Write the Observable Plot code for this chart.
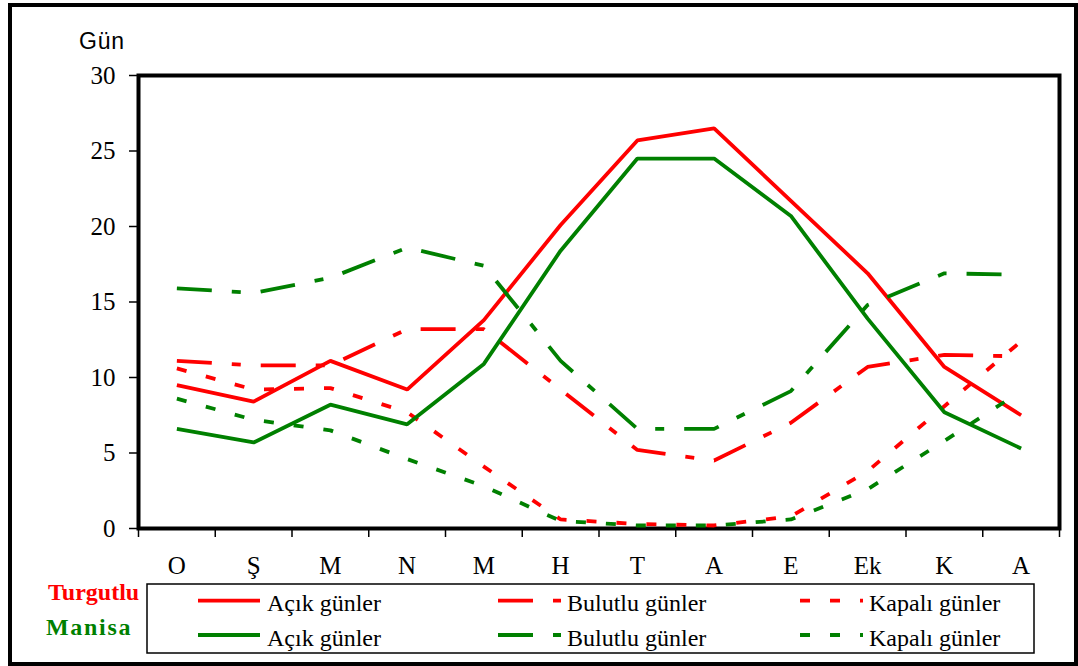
<!DOCTYPE html>
<html>
<head>
<meta charset="utf-8">
<script src="https://cdn.jsdelivr.net/npm/d3@7"></script>
<script src="https://cdn.jsdelivr.net/npm/@observablehq/plot@0.6"></script>
<style>
  html, body { margin: 0; padding: 0; background: #fff; }
  #wrap { position: relative; width: 1078px; height: 666px; overflow: hidden; background: #fff; }
  #chart { position: absolute; left: 0; top: 0; }
  #overlay { position: absolute; left: 0; top: 0; }
  #outer { position: absolute; left: 8px; top: 3px; width: 1070px; height: 663px; box-sizing: border-box; border: 4px solid #000; pointer-events: none; }
</style>
</head>
<body>
<div id="wrap">
  <div id="chart"></div>
  <svg id="overlay" width="1078" height="666" xmlns="http://www.w3.org/2000/svg"></svg>
  <div id="outer"></div>
</div>
<script>
// ---- data ----
const months = ["O", "Ş", "M", "N", "M", "H", "T", "A", "E", "Ek", "K", "A"];
const yTicks = [0, 5, 10, 15, 20, 25, 30];
const yLabel = "Gün";
const cities = ["Turgutlu", "Manisa"];
const seriesNames = ["Açık günler", "Bulutlu günler", "Kapalı günler"];

const turgutluAcik    = [9.5, 8.4, 11.1, 9.2, 13.8, 20.1, 25.7, 26.5, 21.7, 16.9, 10.7, 7.5];
const turgutluBulutlu = [11.1, 10.8, 10.8, 13.2, 13.2, 9.2, 5.2, 4.5, 7.0, 10.7, 11.5, 11.4];
const turgutluKapali  = [10.6, 9.2, 9.3, 7.7, 4.1, 0.6, 0.3, 0.2, 0.8, 3.8, 8.1, 12.4];
const manisaAcik      = [6.6, 5.7, 8.2, 6.9, 10.9, 18.4, 24.5, 24.5, 20.7, 13.9, 7.7, 5.3];
const manisaBulutlu   = [15.9, 15.6, 16.6, 18.6, 17.4, 11.1, 6.6, 6.6, 9.1, 14.8, 16.9, 16.8];
const manisaKapali    = [8.6, 7.2, 6.5, 4.6, 2.8, 0.5, 0.2, 0.2, 0.6, 2.6, 5.8, 9.1];

// ---- styles ----
const RED = "#ff0000", GREEN = "#008000";
const cityColor = {Turgutlu: RED, Manisa: GREEN};
const dashes = ["none", "35,20,9,20", "10,20"];
const SW = 3.8;
const serif = "'Liberation Serif', 'Times New Roman', serif";

const table = [
  {city: "Turgutlu", kind: 0, values: turgutluAcik},
  {city: "Turgutlu", kind: 1, values: turgutluBulutlu},
  {city: "Turgutlu", kind: 2, values: turgutluKapali},
  {city: "Manisa", kind: 0, values: manisaAcik},
  {city: "Manisa", kind: 1, values: manisaBulutlu},
  {city: "Manisa", kind: 2, values: manisaKapali}
];

const lineMarks = table.map(s =>
  Plot.line(s.values.map((v, i) => ({i, v})), {
    x: d => d.i + 0.5,
    y: "v",
    stroke: cityColor[s.city],
    strokeWidth: SW,
    strokeDasharray: dashes[s.kind],
    strokeLinecap: "butt",
    strokeLinejoin: "miter"
  })
);

const plot = Plot.plot({
  width: 1078,
  height: 580,
  marginLeft: 138,
  marginRight: 19,
  marginTop: 75,
  marginBottom: 52,
  x: {type: "linear", domain: [0, months.length], axis: null},
  y: {domain: [0, 30], axis: null},
  style: {fontFamily: serif, fontSize: "25px", color: "#000", background: "transparent", overflow: "visible"},
  marks: [
    Plot.axisY(yTicks, {tickSize: 9, tickPadding: 14, strokeWidth: 1.5, label: null}),
    Plot.axisX(d3.range(months.length + 1), {tickSize: 9, strokeWidth: 1.5, tickFormat: () => "", label: null}),
    Plot.axisX(d3.range(months.length).map(i => i + 0.5), {tickSize: 0, tickPadding: 28, tickFormat: d => months[Math.floor(d)], label: null}),
    Plot.frame({stroke: "#000", strokeWidth: 4}),
    ...lineMarks
  ]
});
document.getElementById("chart").appendChild(plot);

// ---- overlay: axis title and legend ----
const ov = d3.select("#overlay");
ov.append("text").attr("x", 79).attr("y", 49)
  .attr("font-family", "'Liberation Sans', Arial, sans-serif").attr("font-size", 23)
  .attr("letter-spacing", 0.8).attr("fill", "#000").text(yLabel);

ov.append("rect").attr("x", 147).attr("y", 584).attr("width", 887).attr("height", 69)
  .attr("fill", "none").attr("stroke", "#000").attr("stroke-width", 1.5);

const rowY = [600.7, 635];
const cityX = [48, 46];
cities.forEach((c, r) => {
  ov.append("text").attr("x", cityX[r]).attr("y", rowY[r] + (r === 0 ? -0.5 : 0))
    .attr("font-family", serif).attr("font-size", 24).attr("font-weight", "bold")
    .attr("letter-spacing", r === 0 ? 0 : 1.7)
    .attr("fill", cityColor[c]).text(c);
});
const swX = [[198, 260], [498, 561], [800, 863]];
const txX = [267, 567, 869];
cities.forEach((c, r) => {
  seriesNames.forEach((n, k) => {
    ov.append("line").attr("x1", swX[k][0]).attr("x2", swX[k][1])
      .attr("y1", rowY[r]).attr("y2", rowY[r])
      .attr("stroke", cityColor[c]).attr("stroke-width", SW)
      .attr("stroke-dasharray", dashes[k] === "none" ? null : dashes[k]);
    ov.append("text").attr("x", txX[k]).attr("y", rowY[r] + 10.5)
      .attr("font-family", serif).attr("font-size", 24).attr("fill", "#000").text(n);
  });
});
</script>
</body>
</html>
